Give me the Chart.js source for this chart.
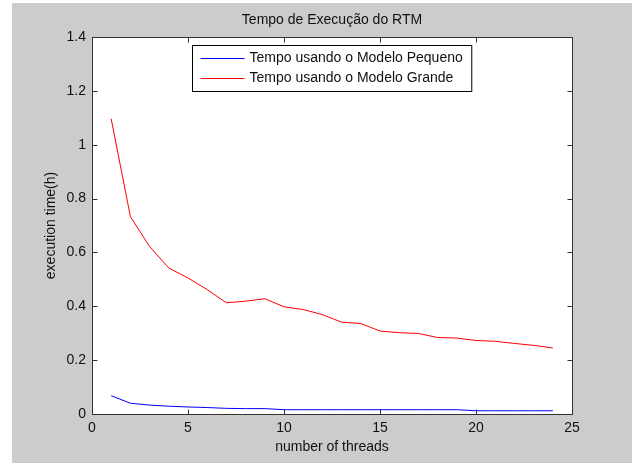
<!DOCTYPE html>
<html>
<head>
<meta charset="utf-8">
<title>Tempo de Execução do RTM</title>
<script src="https://cdn.jsdelivr.net/npm/chart.js@4"></script>
<style>
  html, body { margin: 0; padding: 0; background: #fff; }
  #wrap { position: absolute; left: 12px; top: 3px; width: 620px; height: 460px; background: #cccccc; }
</style>
</head>
<body>
<div id="wrap"><canvas id="myChart" width="620" height="460"></canvas></div>
<script>
const threads = [1, 2, 3, 4, 5, 6, 7, 8, 9, 10, 11, 12, 13, 14, 15, 16, 17, 18, 19, 20, 21, 22, 23, 24];
const smallModel = [0.068, 0.040, 0.033, 0.029, 0.026, 0.024, 0.021, 0.020, 0.020, 0.016, 0.016, 0.016,
                    0.016, 0.016, 0.016, 0.016, 0.016, 0.016, 0.016, 0.012, 0.012, 0.012, 0.012, 0.012];
const bigModel = [1.096, 0.733, 0.622, 0.542, 0.505, 0.462, 0.413, 0.419, 0.428, 0.398, 0.388, 0.369,
                  0.341, 0.336, 0.308, 0.302, 0.299, 0.284, 0.282, 0.273, 0.270, 0.262, 0.255, 0.245];
const xTickLabels = ['0', '5', '10', '15', '20', '25'];
const yTickLabels = ['0', '0.2', '0.4', '0.6', '0.8', '1', '1.2', '1.4'];

const FONT = "'Liberation Sans', Arial, sans-serif";
const ink = '#111';

// white axes area + matlab style box with inward ticks
const axesBox = {
  id: 'axesBox',
  beforeDraw(chart) {
    const { ctx, chartArea: a } = chart;
    ctx.save();
    ctx.fillStyle = '#fff';
    ctx.fillRect(a.left, a.top, a.right - a.left, a.bottom - a.top);
    ctx.restore();
  },
  afterDatasetsDraw(chart) {
    const { ctx, chartArea: a, scales } = chart;
    const L = Math.round(a.left) + 0.5, R = Math.round(a.right) + 0.5;
    const T = Math.round(a.top) + 0.5, B = Math.round(a.bottom) + 0.5;
    ctx.save();
    ctx.strokeStyle = '#333';
    ctx.lineWidth = 1;
    ctx.beginPath();
    ctx.rect(L, T, R - L, B - T);
    scales.x.ticks.forEach(t => {
      const px = Math.round(scales.x.getPixelForValue(t.value)) + 0.5;
      ctx.moveTo(px, B); ctx.lineTo(px, B - 5);
      ctx.moveTo(px, T); ctx.lineTo(px, T + 5);
    });
    scales.y.ticks.forEach(t => {
      const py = Math.round(scales.y.getPixelForValue(t.value)) + 0.5;
      ctx.moveTo(L, py); ctx.lineTo(L + 5, py);
      ctx.moveTo(R, py); ctx.lineTo(R - 5, py);
    });
    ctx.stroke();

    // legend, top centre of the axes
    ctx.font = '14px ' + FONT;
    const sets = chart.data.datasets;
    const textW = Math.max(...sets.map(d => ctx.measureText(d.label).width));
    const w = 57 + textW + 9, h = 46;
    const cx = (a.left + a.right) / 2;
    const bx = Math.round(cx - w / 2) + 0.5, by = Math.round(a.top + 8) + 0.5;
    ctx.fillStyle = '#fff';
    ctx.fillRect(bx, by, w, h);
    ctx.strokeStyle = '#000';
    ctx.strokeRect(bx, by, w, h);
    ctx.textBaseline = 'middle';
    sets.forEach((d, i) => {
      const ly = Math.round(by + 12 + i * 20) + 0.5;
      ctx.strokeStyle = d.borderColor;
      ctx.beginPath();
      ctx.moveTo(bx + 8, ly); ctx.lineTo(bx + 52, ly);
      ctx.stroke();
      ctx.fillStyle = ink;
      ctx.fillText(d.label, bx + 57, ly);
    });
    ctx.restore();
  }
};

const ctx = document.getElementById('myChart').getContext('2d');
const myChart = new Chart(ctx, {
  type: 'line',
  data: {
    datasets: [
      {
        label: 'Tempo usando o Modelo Pequeno',
        data: threads.map((t, i) => ({ x: t, y: smallModel[i] })),
        borderColor: '#0000ff',
        borderWidth: 1,
        pointRadius: 0,
        tension: 0
      },
      {
        label: 'Tempo usando o Modelo Grande',
        data: threads.map((t, i) => ({ x: t, y: bigModel[i] })),
        borderColor: '#ff0000',
        borderWidth: 1,
        pointRadius: 0,
        tension: 0
      }
    ]
  },
  options: {
    responsive: false,
    animation: false,
    devicePixelRatio: 1,
    layout: { padding: { left: 0, right: 60, top: 0, bottom: 0 } },
    plugins: {
      legend: { display: false },
      tooltip: { enabled: false },
      title: {
        display: true,
        text: 'Tempo de Execução do RTM',
        fullSize: false,
        color: ink,
        font: { family: FONT, size: 14, weight: 'normal' },
        padding: { top: 8.6, bottom: 8.6 }
      }
    },
    scales: {
      x: {
        type: 'linear',
        min: 0,
        max: 25,
        grid: { display: false, drawTicks: false },
        border: { display: false },
        ticks: {
          stepSize: 5,
          padding: 6,
          color: ink,
          font: { family: FONT, size: 14 },
          maxRotation: 0,
          callback: (v, i) => xTickLabels[i]
        },
        title: {
          display: true,
          text: 'number of threads',
          color: ink,
          font: { family: FONT, size: 14 },
          padding: { top: 0, bottom: 7 }
        },
        afterFit: s => { s.height = 49; }
      },
      y: {
        min: 0,
        max: 1.4,
        grid: { display: false, drawTicks: false },
        border: { display: false },
        ticks: {
          stepSize: 0.2,
          padding: 6,
          color: ink,
          font: { family: FONT, size: 14 },
          callback: (v, i) => yTickLabels[i]
        },
        title: {
          display: true,
          text: 'execution time(h)',
          color: ink,
          font: { family: FONT, size: 14 },
          padding: { top: 31, bottom: 0 }
        },
        afterFit: s => { s.width = 80; }
      }
    }
  },
  plugins: [axesBox]
});
</script>
</body>
</html>
